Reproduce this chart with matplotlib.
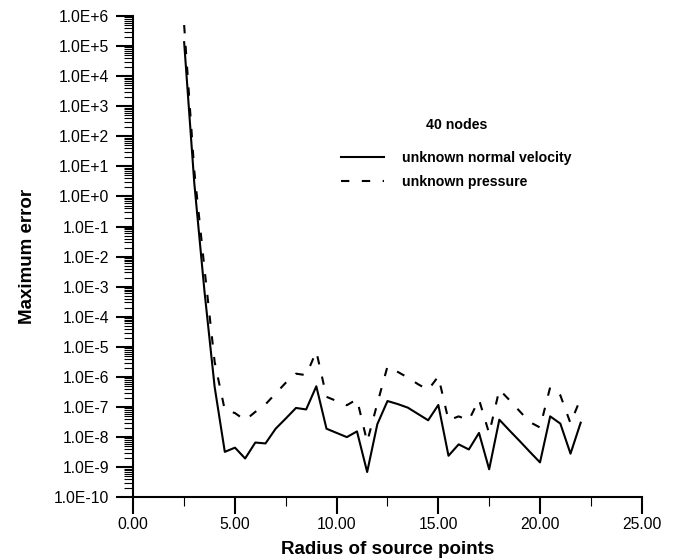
import matplotlib
matplotlib.use("Agg")
import matplotlib.pyplot as plt
import numpy as np
from matplotlib.ticker import FixedLocator, FuncFormatter, MultipleLocator

plt.rcParams['font.family'] = ['Liberation Sans', 'DejaVu Sans']

# radius of source points
radius = [2.5, 3.0, 3.5, 4.0, 4.5, 5.0, 5.5, 6.0, 6.5, 7.0, 7.5, 8.0, 8.5,
          9.0, 9.5, 10.0, 10.5, 11.0, 11.5, 12.0, 12.5, 13.0, 13.5, 14.0,
          14.5, 15.0, 15.5, 16.0, 16.5, 17.0, 17.5, 18.0, 18.5, 19.0, 19.5,
          20.0, 20.5, 21.0, 21.5, 22.0]

# log10 of the maximum error
log_err_velocity = [5.13, 0.44, -3.15, -6.33, -8.49, -8.35, -8.71, -8.18, -8.21,
                    -7.72, -7.38, -7.03, -7.08, -6.31, -7.72, -7.86, -8.00, -7.81,
                    -9.16, -7.57, -6.80, -6.90, -7.02, -7.23, -7.44, -6.93, -8.62,
                    -8.24, -8.41, -7.86, -9.07, -7.42, -7.78, -8.13, -8.49, -8.84,
                    -7.31, -7.55, -8.55, -7.52]
log_err_pressure = [5.70, 0.85, -2.40, -5.50, -7.10, -7.20, -7.44, -7.16, -6.91,
                    -6.55, -6.19, -5.89, -5.94, -5.15, -6.66, -6.80, -6.94, -6.74,
                    -8.16, -6.88, -5.65, -5.83, -6.02, -6.24, -6.43, -5.98, -7.44,
                    -7.31, -7.44, -6.75, -7.88, -6.42, -6.77, -7.14, -7.50, -7.68,
                    -6.34, -6.61, -7.54, -6.71]

err_velocity = 10.0 ** np.array(log_err_velocity)
err_pressure = 10.0 ** np.array(log_err_pressure)

fig = plt.figure(figsize=(6.99, 5.6), dpi=100)
ax = fig.add_axes([0.1907, 0.112, 0.7273, 0.8594])

ax.plot(radius, err_velocity, color='black', lw=1.5, label='unknown normal velocity')
ax.plot(radius, err_pressure, color='black', lw=1.5, linestyle=(0, (4, 6)),
        label='unknown pressure')

ax.set_yscale('log')
ax.set_xlim(0, 25)
ax.set_ylim(1e-10, 1e6)

ax.spines['top'].set_visible(False)
ax.spines['right'].set_visible(False)
ax.spines['left'].set_linewidth(1.5)
ax.spines['bottom'].set_linewidth(1.5)

ax.xaxis.set_major_locator(MultipleLocator(5))
ax.xaxis.set_minor_locator(MultipleLocator(2.5))
ax.xaxis.set_major_formatter(FuncFormatter(lambda v, p: f"{v:.2f}"))

decades = np.arange(-10, 7)
ax.yaxis.set_major_locator(FixedLocator(10.0 ** decades))
minor = [m * 10.0 ** d for d in decades[:-1] for m in range(2, 10)]
ax.yaxis.set_minor_locator(FixedLocator(minor))
ax.yaxis.set_major_formatter(FuncFormatter(lambda v, p: f"1.0E{int(round(np.log10(v))):+d}"))
ax.yaxis.set_minor_formatter(FuncFormatter(lambda v, p: ""))

ax.tick_params(which='major', direction='out', length=12.5, width=1.5,
               labelsize=11.3, pad=2)
ax.tick_params(which='minor', direction='out', length=6.5, width=0.8)
ax.tick_params(axis='y', which='major', pad=5)

ax.set_xlabel('Radius of source points', fontsize=13.5, fontweight='bold', labelpad=6)
ax.set_ylabel('Maximum error', fontsize=13.5, fontweight='bold', labelpad=13)

ax.text(0.654, 0.777, '40 nodes', transform=fig.transFigure, ha='center', va='center',
        fontsize=10.2, fontweight='bold')
leg = ax.legend(loc='upper left', bbox_to_anchor=(0.478, 0.743),
                bbox_transform=fig.transFigure, frameon=False, handlelength=3.0,
                handletextpad=1.3, labelspacing=0.7, borderpad=0,
                prop={'size': 10.2, 'weight': 'bold'})

fig.savefig('out.png', dpi=100)
